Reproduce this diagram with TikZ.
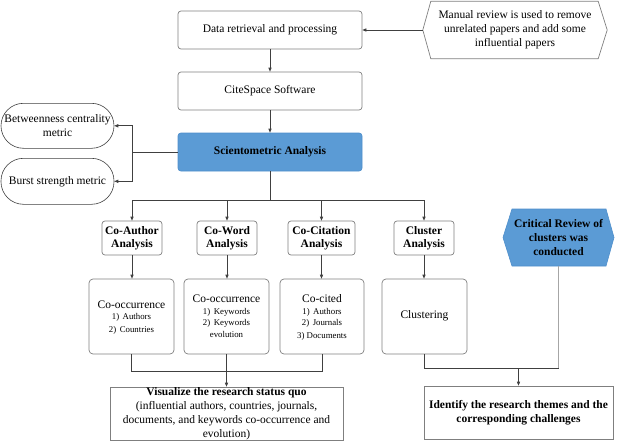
\documentclass[tikz,border=0pt]{standalone}
\usepackage{fontspec}
\setmainfont{Liberation Serif}
\usetikzlibrary{arrows.meta}
\definecolor{blueF}{HTML}{5B9BD5}
\definecolor{blueD}{HTML}{4F8FCB}
\definecolor{bordC}{HTML}{7F7F7F}
\definecolor{lineC}{HTML}{404040}
\definecolor{critC}{HTML}{A6A6A6}
\begin{document}
\begin{tikzpicture}[x=1pt,y=-1pt,
  rbox/.style={draw=bordC,line width=0.7pt,rounded corners=3pt,inner sep=0pt,align=center,font=\fontsize{11.5}{14}\selectfont},
  sbox/.style={draw=bordC,line width=0.7pt,inner sep=0pt,align=center,font=\fontsize{11.5}{14}\selectfont},
  abox/.style={rbox,font=\fontsize{11.5}{13.5}\selectfont\bfseries,minimum width=60pt,minimum height=34pt},
  lbox/.style={rbox,rounded corners=4pt,minimum width=85pt,minimum height=75pt},
  stad/.style={draw=lineC,line width=0.6pt,rounded corners=22.5pt,inner sep=0pt,align=center,font=\fontsize{11.5}{14}\selectfont,minimum width=113pt,minimum height=45pt},
  hexnode/.style={inner sep=0pt,align=center,font=\fontsize{11.5}{14}\selectfont},
  mid/.style={inner sep=0pt,anchor=base,font=\fontsize{11.5}{14}\selectfont},
  small/.style={inner sep=0pt,anchor=base,font=\fontsize{8.8}{10}\selectfont},
  conn/.style={draw=lineC,line width=0.7pt},
  arr/.style={conn,-{Triangle[length=4pt,width=3.2pt]}},
  critline/.style={draw=critC,line width=1.2pt}]
\useasboundingbox (0,0) rectangle (623,444);

% top chain
\node[rbox,minimum width=184pt,minimum height=38pt] (data) at (270,30) {Data retrieval and processing};
\node[rbox,minimum width=184pt,minimum height=38pt] (cite) at (270,91) {CiteSpace Software};
\node[rbox,draw=blueD,fill=blueF,minimum width=184pt,minimum height=38pt,font=\fontsize{11.5}{14}\selectfont\bfseries] (sci) at (270,152) {Scientometric Analysis};

% manual review hexagon
\node[hexnode,minimum width=184pt,minimum height=57pt] (man) at (515,30) {Manual review is used to remove\\unrelated papers and add some\\influential papers};
\draw[draw=bordC,line width=0.7pt] ([xshift=8pt]man.north west) -- ([xshift=-9pt]man.north east) -- (man.east) -- ([xshift=-9pt]man.south east) -- ([xshift=8pt]man.south west) -- (man.west) -- cycle;

% metrics
\node[stad] (bc) at (57.5,125.8) {Betweenness centrality\\metric};
\node[stad,minimum height=46pt] (bs) at (57.5,181.3) {Burst strength metric};

% analysis boxes
\node[abox] (ca) at (132,238) {Co-Author\\Analysis};
\node[abox] (cw) at (227,238) {Co-Word\\Analysis};
\node[abox,minimum width=67pt] (cc) at (321.5,238) {Co-Citation\\Analysis};
\node[abox] (cl) at (424,238) {Cluster\\Analysis};

% lower boxes
\node[lbox] (co1) at (131.5,316.5) {};
\node[lbox] (co2) at (226.5,316.5) {};
\node[lbox,minimum width=84pt] (co3) at (322,316.5) {};
\node[lbox] (clu) at (424.5,316.5) {};

\node[mid] (co1t) at (131.5,308.5) {Co-occurrence};
\node[small] (co1a) at (131.5,319.5) {1)\hspace{0.4em}Authors};
\node[small] (co1b) at (131.5,332.8) {2)\hspace{0.4em}Countries};

\node[mid] (co2t) at (226.5,302.8) {Co-occurrence};
\node[small] (co2a) at (226.5,314.5) {1)\hspace{0.4em}Keywords};
\node[small] (co2b) at (226.5,325.1) {2)\hspace{0.4em}Keywords};
\node[small] (co2c) at (226.5,337.8) {evolution};

\node[mid] (co3t) at (322,302.5) {Co-cited};
\node[small] (co3a) at (322,314.5) {1)\hspace{0.4em}Authors};
\node[small] (co3b) at (322,325.1) {2)\hspace{0.4em}Journals};
\node[small] (co3c) at (322,338.5) {3) Documents};

\node[mid] (clut) at (424.5,318.5) {Clustering};

% critical review hexagon
\coordinate (critc) at (558.5,237.5);
\fill[blueF,draw=blueD,line width=0.6pt] ([shift={(-46.5pt,28.5pt)}]critc) -- ([shift={(47.5pt,28.5pt)}]critc) -- ([shift={(55.5pt,0pt)}]critc) -- ([shift={(47.5pt,-28.5pt)}]critc) -- ([shift={(-46.5pt,-28.5pt)}]critc) -- ([shift={(-55.5pt,0pt)}]critc) -- cycle;
\node[hexnode,minimum width=111pt,minimum height=57pt,font=\fontsize{11.5}{14}\selectfont\bfseries] (crit) at (critc) {Critical Review of\\clusters was\\conducted};

% bottom boxes
\node[sbox,minimum width=233pt,minimum height=53pt] (vis) at (226.5,413.5) {\textbf{Visualize the research status quo}\\(influential authors, countries, journals,\\documents, and keywords co-occurrence and\\evolution)};
\node[sbox,minimum width=189pt,minimum height=53pt,font=\fontsize{11.5}{13.7}\selectfont\bfseries] (ident) at (518.5,412.5) {Identify the research themes and the\\corresponding challenges};

% connectors
\draw[arr] (man.west) -- (data.east);
\draw[arr] (data.south) -- (cite.north);
\draw[arr] (cite.south) -- (sci.north);

\coordinate (lj) at (132,152);
\draw[conn] (sci.west) -- (lj);
\draw[arr] (lj) |- (bc.east);
\draw[arr] (lj) |- (bs.east);

\coordinate (bus) at (270,200);
\draw[conn] (sci.south) -- (bus);
\draw[conn] (ca.north |- bus) -- (cl.north |- bus);
\draw[arr] (ca.north |- bus) -- (ca.north);
\draw[arr] (cw.north |- bus) -- (cw.north);
\draw[arr] (cc.north |- bus) -- (cc.north);
\draw[arr] (cl.north |- bus) -- (cl.north);

\draw[arr] (ca.south) -- (ca.south |- co1.north);
\draw[arr] (cw.south) -- (cw.south |- co2.north);
\draw[arr] (cc.south) -- (cc.south |- co3.north);
\draw[arr] (cl.south) -- (cl.south |- clu.north);

\coordinate (bus2) at (0,371);
\draw[conn] (co1.south) -- (co1.south |- bus2) -- (co3.south |- bus2) -- (co3.south);
\draw[arr] (co2.south) -- (co2.south |- vis.north);

\coordinate (bus3) at (0,368);
\draw[conn] (clu.south) -- (clu.south |- bus3) -- (crit.south |- bus3);
\draw[critline] (crit.south) -- (crit.south |- bus3);
\draw[arr] (ident.north |- bus3) -- (ident.north);
\end{tikzpicture}
\end{document}
